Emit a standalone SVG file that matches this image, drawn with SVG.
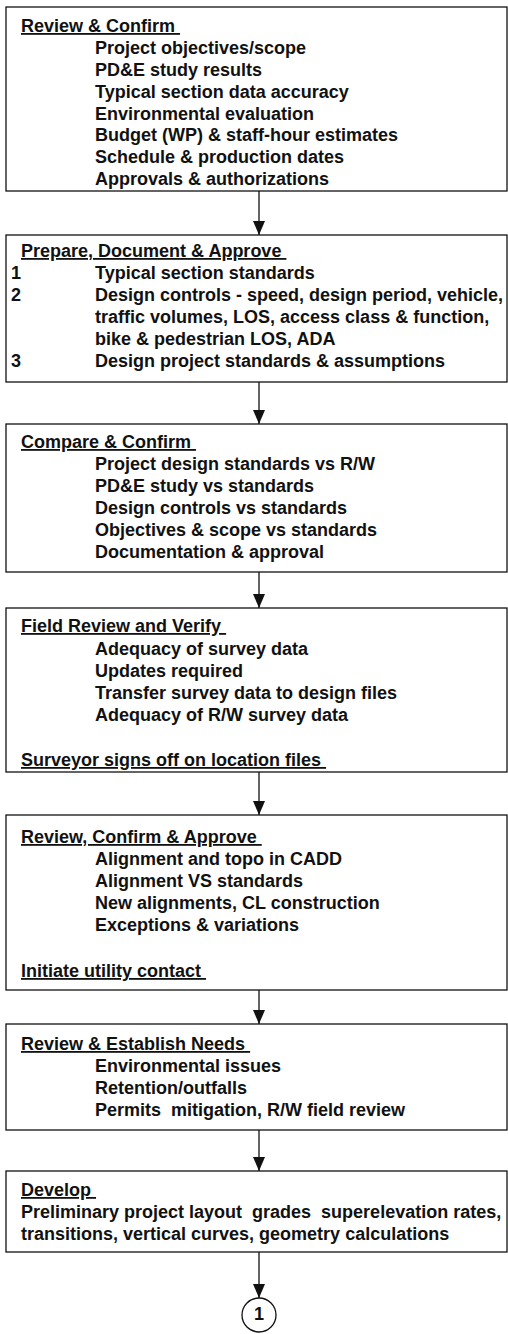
<svg xmlns="http://www.w3.org/2000/svg" width="508" height="1334" viewBox="0 0 508 1334">
<defs>
<style>
.box{fill:#fff;stroke:#111;stroke-width:1.3}
.t{font-family:"Liberation Sans",Arial,sans-serif;font-size:18px;font-weight:bold;fill:#111;white-space:pre}
.h{text-decoration:underline}
.ln{stroke:#111;stroke-width:1.3;fill:none}
</style>
<marker id="ah" viewBox="0 0 14 12" refX="14" refY="6" markerWidth="14" markerHeight="12" markerUnits="userSpaceOnUse" orient="auto">
<path d="M0,0 L14,6 L0,12 Z" fill="#111"/>
</marker>
</defs>
<rect width="508" height="1334" fill="#fff"/>
<g id="connectors">
<line class="ln" x1="259" y1="191" x2="259" y2="235" marker-end="url(#ah)"/>
<line class="ln" x1="259" y1="382" x2="259" y2="424" marker-end="url(#ah)"/>
<line class="ln" x1="259" y1="572" x2="259" y2="608" marker-end="url(#ah)"/>
<line class="ln" x1="259" y1="772" x2="259" y2="815" marker-end="url(#ah)"/>
<line class="ln" x1="259" y1="990" x2="259" y2="1024" marker-end="url(#ah)"/>
<line class="ln" x1="259" y1="1130" x2="259" y2="1171" marker-end="url(#ah)"/>
<line class="ln" x1="259" y1="1252" x2="259" y2="1298" marker-end="url(#ah)"/>
</g>
<g id="n1">
<rect class="box" x="6" y="7" width="501" height="184"/>
<text class="t h" x="21" y="32" xml:space="preserve">Review &amp; Confirm </text>
<text class="t" x="95" y="54">Project objectives/scope</text>
<text class="t" x="95" y="76">PD&amp;E study results</text>
<text class="t" x="95" y="98">Typical section data accuracy</text>
<text class="t" x="95" y="120">Environmental evaluation</text>
<text class="t" x="95" y="141">Budget (WP) &amp; staff-hour estimates</text>
<text class="t" x="95" y="163">Schedule &amp; production dates</text>
<text class="t" x="95" y="185">Approvals &amp; authorizations</text>
</g>
<g id="n2">
<rect class="box" x="6" y="235" width="501" height="147"/>
<text class="t h" x="21" y="257" xml:space="preserve">Prepare, Document &amp; Approve </text>
<text class="t" x="11" y="279">1</text>
<text class="t" x="95" y="279">Typical section standards</text>
<text class="t" x="11" y="301">2</text>
<text class="t" x="95" y="301">Design controls - speed, design period, vehicle,</text>
<text class="t" x="95" y="323">traffic volumes, LOS, access class &amp; function,</text>
<text class="t" x="95" y="345">bike &amp; pedestrian LOS, ADA</text>
<text class="t" x="11" y="367">3</text>
<text class="t" x="95" y="367">Design project standards &amp; assumptions</text>
</g>
<g id="n3">
<rect class="box" x="6" y="424" width="501" height="148"/>
<text class="t h" x="21" y="448" xml:space="preserve">Compare &amp; Confirm </text>
<text class="t" x="95" y="470">Project design standards vs R/W</text>
<text class="t" x="95" y="492">PD&amp;E study vs standards</text>
<text class="t" x="95" y="514">Design controls vs standards</text>
<text class="t" x="95" y="536">Objectives &amp; scope vs standards</text>
<text class="t" x="95" y="558">Documentation &amp; approval</text>
</g>
<g id="n4">
<rect class="box" x="6" y="608" width="501" height="164"/>
<text class="t h" x="21" y="632" xml:space="preserve">Field Review and Verify </text>
<text class="t" x="95" y="655">Adequacy of survey data</text>
<text class="t" x="95" y="677">Updates required</text>
<text class="t" x="95" y="699">Transfer survey data to design files</text>
<text class="t" x="95" y="721">Adequacy of R/W survey data</text>
<text class="t h" x="21" y="766" xml:space="preserve">Surveyor signs off on location files </text>
</g>
<g id="n5">
<rect class="box" x="6" y="815" width="501" height="175"/>
<text class="t h" x="21" y="843" xml:space="preserve">Review, Confirm &amp; Approve </text>
<text class="t" x="95" y="865">Alignment and topo in CADD</text>
<text class="t" x="95" y="887">Alignment VS standards</text>
<text class="t" x="95" y="909">New alignments, CL construction</text>
<text class="t" x="95" y="931">Exceptions &amp; variations</text>
<text class="t h" x="21" y="977" xml:space="preserve">Initiate utility contact </text>
</g>
<g id="n6">
<rect class="box" x="6" y="1024" width="501" height="106"/>
<text class="t h" x="21" y="1050" xml:space="preserve">Review &amp; Establish Needs </text>
<text class="t" x="95" y="1072">Environmental issues</text>
<text class="t" x="95" y="1094">Retention/outfalls</text>
<text class="t" x="95" y="1116" xml:space="preserve">Permits  mitigation, R/W field review</text>
</g>
<g id="n7">
<rect class="box" x="6" y="1171" width="501" height="81"/>
<text class="t h" x="21" y="1196" xml:space="preserve">Develop </text>
<text class="t" x="21" y="1218" xml:space="preserve">Preliminary project layout  grades  superelevation rates,</text>
<text class="t" x="21" y="1240">transitions, vertical curves, geometry calculations</text>
</g>
<g id="c1">
<circle cx="259" cy="1315" r="17" fill="#fff" stroke="#111" stroke-width="1.3"/>
<text class="t" x="259" y="1320" text-anchor="middle" font-size="14">1</text>
</g>
</svg>
